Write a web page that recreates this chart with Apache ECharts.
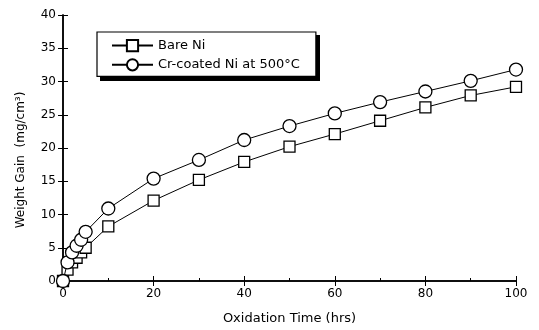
<!DOCTYPE html>
<html><head><meta charset="utf-8">
<script src="https://cdn.jsdelivr.net/npm/echarts@6/dist/echarts.min.js"></script>
<style>html,body{margin:0;padding:0;background:#fff}#c{width:539px;height:330px}</style>
</head><body><div id="c"></div>
<script>
const times = [0, 1, 2, 3, 4, 5, 10, 20, 30, 40, 50, 60, 70, 80, 90, 100];
const bareNi = [0, 1.7, 2.8, 3.5, 4.3, 5.0, 8.2, 12.1, 15.2, 17.9, 20.2, 22.1, 24.1, 26.1, 27.9, 29.2];
const crCoated = [0, 2.8, 4.3, 5.3, 6.2, 7.4, 10.9, 15.4, 18.2, 21.2, 23.3, 25.2, 26.9, 28.5, 30.1, 31.8];
const seriesNames = ['Bare Ni', 'Cr-coated Ni at 500°C'];
const xTitle = 'Oxidation Time (hrs)';
const yTitle = 'Weight Gain  (mg/cm³)';

const font = 'DejaVu Sans, sans-serif';
const chart = echarts.init(document.getElementById('c'));
const pair = (arr) => times.map((t, i) => [t, arr[i]]);
const axisLineStyle = { color: '#000', width: 1.5 };
const tickStyle = { color: '#000', width: 1 };
chart.setOption({
  animation: false,
  backgroundColor: '#fff',
  grid: { left: 63, right: 23, top: 15, bottom: 46 },
  graphic: [{
    type: 'rect', left: 100, top: 35, z: 1, silent: true,
    shape: { width: 220, height: 46 },
    style: { fill: '#000' }
  }],
  legend: {
    orient: 'vertical', left: 97, top: 32, z: 5,
    backgroundColor: '#fff', borderColor: '#000', borderWidth: 1.2,
    padding: [7, 16, 5, 14], itemGap: 6, itemWidth: 41, itemHeight: 14,
    textStyle: { fontFamily: font, fontSize: 13, color: '#000' },
    data: seriesNames
  },
  xAxis: [{
    type: 'value', min: 0, max: 100, interval: 20,
    name: xTitle, nameLocation: 'middle', nameGap: 31,
    nameTextStyle: { fontFamily: font, fontSize: 13, color: '#000' },
    axisLine: { lineStyle: axisLineStyle },
    axisTick: { inside: true, length: 5, lineStyle: tickStyle },
    minorTick: { show: true, splitNumber: 2, length: 3, lineStyle: tickStyle },
    axisLabel: { fontFamily: font, fontSize: 12, color: '#000', margin: 7 },
    splitLine: { show: false }
  }, {
    type: 'value', min: 0, max: 100, interval: 20, position: 'top',
    axisLine: { lineStyle: axisLineStyle },
    axisTick: { inside: true, length: 5, lineStyle: tickStyle },
    axisLabel: { show: false }, splitLine: { show: false }
  }],
  yAxis: [{
    type: 'value', min: 0, max: 40, interval: 5,
    name: yTitle, nameLocation: 'middle', nameGap: 36,
    nameTextStyle: { fontFamily: font, fontSize: 12, color: '#000', padding: [0, 24, 0, 0] },
    axisLine: { show: true, lineStyle: axisLineStyle },
    axisTick: { show: true, inside: true, length: 5, lineStyle: tickStyle },
    axisLabel: { fontFamily: font, fontSize: 12, color: '#000', margin: 7 },
    splitLine: { show: false }
  }, {
    type: 'value', min: 0, max: 40, interval: 5, position: 'right',
    axisLine: { show: true, lineStyle: axisLineStyle },
    axisTick: { show: true, inside: true, length: 5, lineStyle: tickStyle },
    axisLabel: { show: false }, splitLine: { show: false }
  }],
  series: [{
    name: seriesNames[0], type: 'line', data: pair(bareNi),
    symbol: 'rect', symbolSize: 11, showAllSymbol: true,
    lineStyle: { color: '#000', width: 1 },
    itemStyle: { color: '#fff', borderColor: '#000', borderWidth: 1.3 },
    z: 3
  }, {
    name: seriesNames[1], type: 'line', data: pair(crCoated),
    symbol: 'circle', symbolSize: 13, showAllSymbol: true,
    lineStyle: { color: '#000', width: 1 },
    itemStyle: { color: '#fff', borderColor: '#000', borderWidth: 1.3 },
    z: 4
  }]
});
</script></body></html>
